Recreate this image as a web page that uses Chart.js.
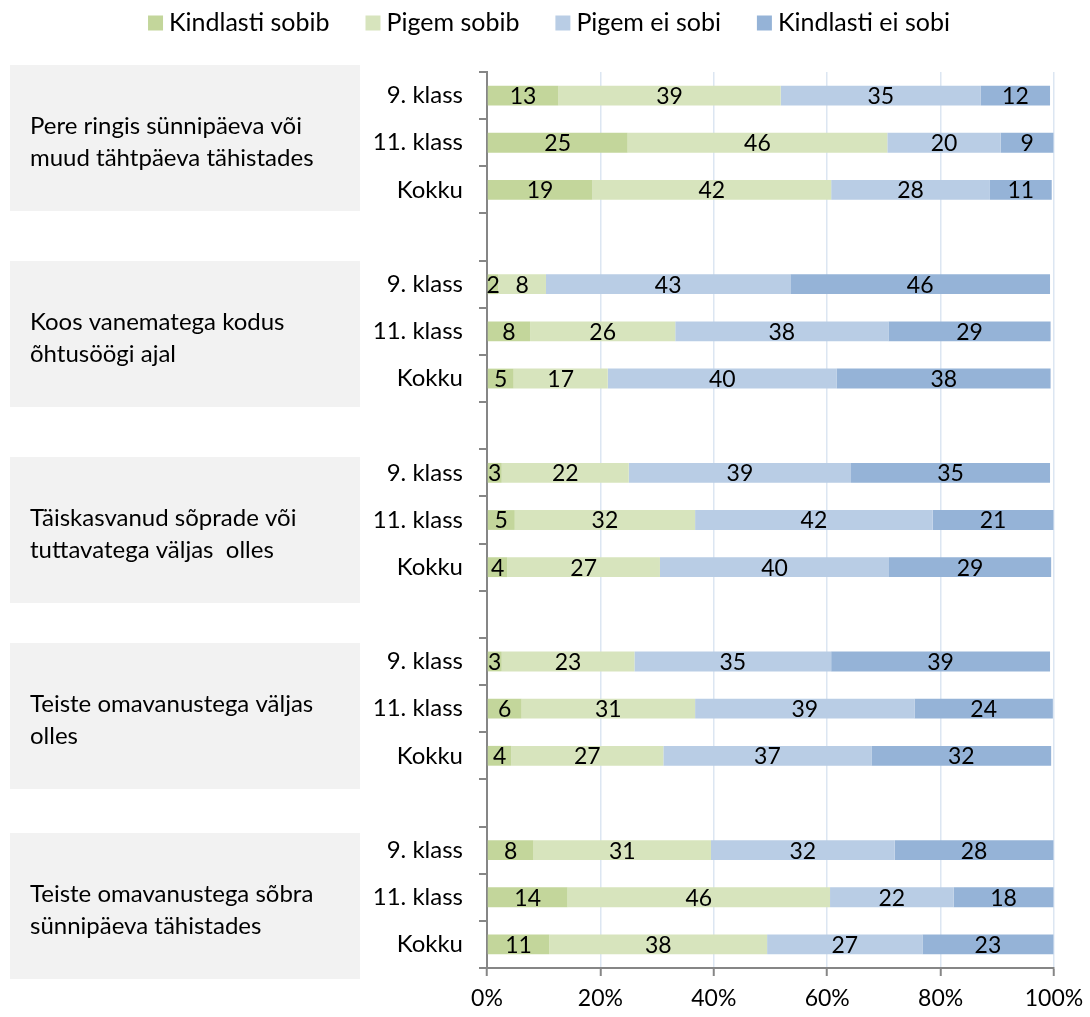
<!DOCTYPE html>
<html><head><meta charset="utf-8">
<script src="https://cdn.jsdelivr.net/npm/chart.js@4/dist/chart.umd.min.js"></script>
<style>html,body{margin:0;padding:0;background:#fff}#wrap{width:1090px;height:1017px;position:relative}</style>
</head><body><div id="wrap"><canvas id="c" width="1090" height="1017"></canvas></div>
<script>
// ---- data ----
const rowLabels = ['9. klass','11. klass','Kokku','',
                   '9. klass','11. klass','Kokku','',
                   '9. klass','11. klass','Kokku','',
                   '9. klass','11. klass','Kokku','',
                   '9. klass','11. klass','Kokku'];
const groupLabels = [
  ['Pere ringis sünnipäeva või','muud tähtpäeva tähistades'],
  ['Koos vanematega kodus','õhtusöögi ajal'],
  ['Täiskasvanud sõprade või','tuttavatega väljas  olles'],
  ['Teiste omavanustega väljas','olles'],
  ['Teiste omavanustega sõbra','sünnipäeva tähistades']
];
const seriesNames = ['Kindlasti sobib','Pigem sobib','Pigem ei sobi','Kindlasti ei sobi'];
const kindlastiSobib  = [12.6,24.8,18.6,null, 2.0, 7.6, 4.7,null,  2.6, 4.9, 3.6,null,  2.6, 6.1, 4.3,null,  8.2,14.2,11.0];
const pigemSobib      = [39.2,45.8,42.1,null, 8.4,25.6,16.6,null, 22.4,31.8,26.9,null, 23.4,30.6,26.8,null, 31.3,46.3,38.4];
const pigemEiSobi     = [35.3,20.0,28.0,null,43.1,37.6,40.4,null, 39.2,41.9,40.4,null, 34.7,38.7,36.7,null, 32.4,21.8,27.4];
const kindlastiEiSobi = [12.2, 9.3,10.9,null,45.8,28.6,37.7,null, 35.1,21.3,28.6,null, 38.6,24.4,31.7,null, 28.0,17.6,23.1];
const xTicks = [0,20,40,60,80,100];

// ---- style ----
const FONT = 'Lato, "Open Sans", sans-serif';
const FS = 24;
const FS_VAL = 23;
const FS_X = 23;
const FS_LEG = 25;
const colors = ['#c3d69b','#d7e4bd','#b9cde5','#95b3d7'];
const boxTops = [65,261,457,643,833];
const boxH = 146;

const seriesData = [kindlastiSobib, pigemSobib, pigemEiSobi, kindlastiEiSobi];

const sidePanels = {
  id:'sidePanels',
  beforeDraw(chart){
    const ctx = chart.ctx;
    ctx.save();
    ctx.font = FS + 'px ' + FONT;
    ctx.textBaseline = 'middle';
    ctx.textAlign = 'left';
    groupLabels.forEach((lines,i)=>{
      ctx.fillStyle = '#f2f2f2';
      ctx.fillRect(10, boxTops[i], 350, boxH);
      ctx.fillStyle = '#000';
      const cy = boxTops[i] + boxH/2 + 4;
      const lh = 32;
      lines.forEach((t,j)=>{
        ctx.fillText(t, 30, cy + (j - (lines.length-1)/2)*lh);
      });
    });
    ctx.restore();
  }
};

const legendPlugin = {
  id:'customLegend',
  afterDraw(chart){
    const ctx = chart.ctx;
    ctx.save();
    ctx.font = FS_LEG + 'px ' + FONT;
    ctx.textBaseline = 'middle';
    ctx.textAlign = 'left';
    const box = 15, gap = 6, sep = 36;
    const widths = seriesNames.map(n=>ctx.measureText(n).width);
    const total = widths.reduce((a,b)=>a+b,0) + seriesNames.length*(box+gap) + (seriesNames.length-1)*sep;
    let x = 549 - total/2;
    const y = 23;
    seriesNames.forEach((n,i)=>{
      ctx.fillStyle = colors[i];
      ctx.fillRect(x, y - box/2, box, box);
      x += box + gap;
      ctx.fillStyle = '#000';
      ctx.fillText(n, x, y);
      x += widths[i] + sep;
    });
    ctx.restore();
  }
};

const valueLabels = {
  id:'valueLabels',
  afterDatasetsDraw(chart){
    const ctx = chart.ctx;
    ctx.save();
    ctx.font = FS_VAL + 'px ' + FONT;
    ctx.fillStyle = '#000';
    ctx.textAlign = 'center';
    ctx.textBaseline = 'middle';
    chart.data.datasets.forEach((ds,di)=>{
      const meta = chart.getDatasetMeta(di);
      meta.data.forEach((el,i)=>{
        const v = ds.data[i];
        if (v == null) return;
        const p = el.getProps(['x','y','base'], true);
        ctx.fillText(String(Math.round(v)), (p.x + p.base)/2, p.y + 1);
      });
    });
    ctx.restore();
  }
};

new Chart(document.getElementById('c'), {
  type:'bar',
  data:{
    labels: rowLabels,
    datasets: seriesNames.map((n,i)=>({
      label:n, data:seriesData[i], backgroundColor:colors[i], borderWidth:0,
      barPercentage:0.42, categoryPercentage:1.0
    }))
  },
  options:{
    indexAxis:'y',
    responsive:false,
    animation:false,
    devicePixelRatio:1,
    layout:{padding:{top:72,right:36,left:0,bottom:0}},
    plugins:{legend:{display:false}, tooltip:{enabled:false}},
    scales:{
      x:{
        stacked:true, min:0, max:100,
        afterBuildTicks(s){ s.ticks = xTicks.map(v=>({value:v})); },
        ticks:{callback:v=>v+'%', font:{size:FS_X, family:FONT}, color:'#000', padding:9, maxRotation:0},
        grid:{color:'#dce6f2', lineWidth:1.5, tickLength:8, tickColor:'#868686', tickWidth:2},
        border:{color:'#868686', width:2},
        afterFit(s){ s.height = 49; s.paddingRight = 0; }
      },
      y:{
        stacked:true,
        ticks:{font:{size:FS, family:FONT}, color:'#000', padding:16, autoSkip:false},
        grid:{drawOnChartArea:false, tickLength:8, color:'#868686', lineWidth:2, offset:true},
        border:{color:'#868686', width:2},
        afterFit(s){ s.width = 487; }
      }
    }
  },
  plugins:[sidePanels, valueLabels, legendPlugin]
});
</script>
</body></html>
